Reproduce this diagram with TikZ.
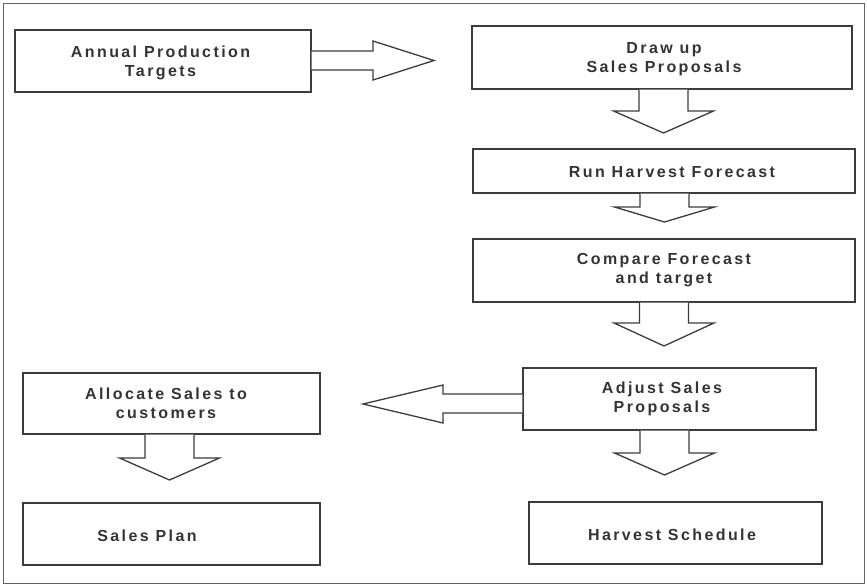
\documentclass[tikz,border=0pt]{standalone}
\usepackage{fontspec}
\setmainfont{Liberation Sans}[LetterSpace=15]
\usetikzlibrary{calc}
\definecolor{ink}{HTML}{3C3C3C}
\definecolor{textink}{HTML}{333333}
\tikzset{
  stepbox/.style={draw=ink, line width=1.3pt, rectangle, inner sep=0pt, anchor=center},
  label/.style={text=textink, font=\bfseries\fontsize{16}{19}\selectfont, align=center, inner sep=0pt},
  blockarrow/.style={draw=ink, line width=1.3pt, line join=miter, fill=white},
  frame/.style={draw=ink!80, line width=1pt}
}
% vertical block arrow: #1 source node, #2 centre x, #3 shaft end y, #4 tip y
\newcommand{\downblock}[4]{%
  \draw[blockarrow] (#2-24.5,0 |- #1.south) -- (#2-24.5,#3) -- (#2-50,#3) -- (#2,#4)
    -- (#2+50,#3) -- (#2+24.5,#3) -- (#2+24.5,0 |- #1.south);
}
\begin{document}
\begin{tikzpicture}[x=1pt,y=-1pt]
\useasboundingbox (0,0) rectangle (867,586);
\draw[frame] (3,4) rectangle (864,583);

% boxes
\node[stepbox, minimum width=296pt, minimum height=62pt] (ann)   at (163,61)    {};
\node[stepbox, minimum width=380pt, minimum height=63pt] (draw)  at (662,57.5)  {};
\node[stepbox, minimum width=382pt, minimum height=44pt] (run)   at (664,171)   {};
\node[stepbox, minimum width=382pt, minimum height=63pt] (cmp)   at (664,270.5) {};
\node[stepbox, minimum width=293pt, minimum height=62pt] (adj)   at (669.5,399) {};
\node[stepbox, minimum width=297pt, minimum height=61pt] (alloc) at (171.5,403.5) {};
\node[stepbox, minimum width=297pt, minimum height=62pt] (plan)  at (171.5,534) {};
\node[stepbox, minimum width=293pt, minimum height=62pt] (sched) at (675.5,533) {};

% labels
\node[label] (tann)   at (160.5,63) {Annual Production\\Targets};
\node[label] (tdraw)  at (664,59)   {Draw up\\Sales Proposals};
\node[label] (trun)   at (672,172)  {Run Harvest Forecast};
\node[label] (tcmp)   at (664,270)  {Compare Forecast\\and target};
\node[label] (tadj)   at (662,399)  {Adjust Sales\\Proposals};
\node[label] (talloc) at (166,403)  {Allocate Sales to\\customers};
\node[label] (tplan)  at (147,536)  {Sales Plan};
\node[label] (tsched) at (672,535)  {Harvest Schedule};

% horizontal block arrows
\draw[blockarrow] (ann.east |- 0,51) -- (373,51) -- (373,41) -- (434,60.5)
  -- (373,80) -- (373,70) -- (ann.east |- 0,70);
\draw[blockarrow] (adj.west |- 0,394) -- (443,394) -- (443,385) -- (363,404)
  -- (443,423) -- (443,413) -- (adj.west |- 0,413);

% vertical block arrows
\downblock{draw}{663.5}{111}{133}
\downblock{run}{664.5}{207}{222}
\downblock{cmp}{664}{323}{346}
\downblock{adj}{664.5}{453}{475}
\downblock{alloc}{169.5}{458}{480}
\end{tikzpicture}
\end{document}
